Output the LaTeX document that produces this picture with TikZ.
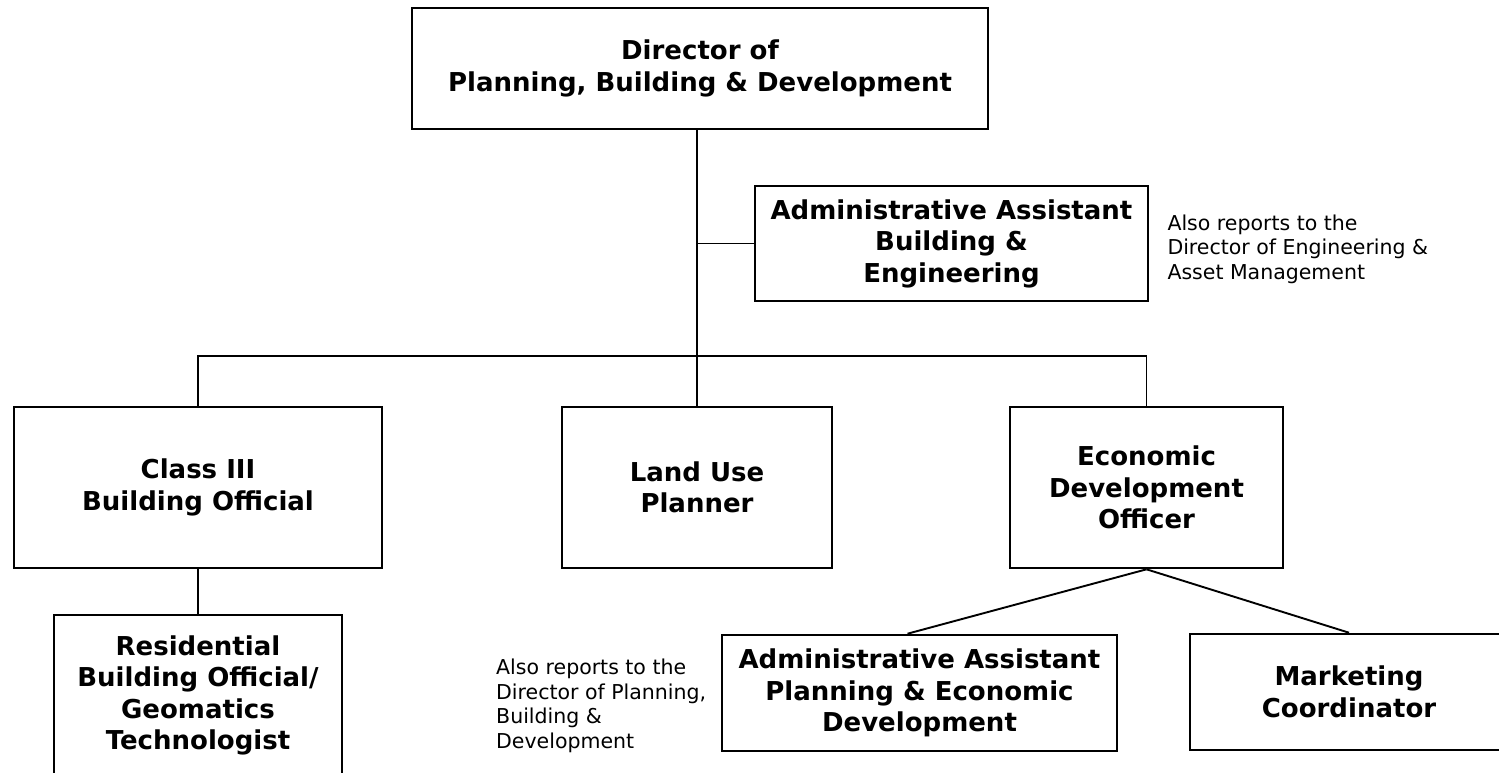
\documentclass[tikz,border=0pt]{standalone}
\usepackage{fontspec}
\setmainfont{DejaVu Sans}
\usetikzlibrary{positioning}

\begin{document}
\begin{tikzpicture}[x=1pt, y=-1pt,
  post/.style={draw, line width=2.6pt, inner sep=0pt, align=center,
    font=\bfseries\fontsize{26}{31.5}\selectfont},
  note/.style={inner sep=0pt, align=left, font=\fontsize{20.5}{24.5}\selectfont},
  link/.style={line width=1.9pt}]

\useasboundingbox (0,0) rectangle (1499,772);

% director and his assistant
\node[post, minimum width=576pt, minimum height=121pt] (dir) at (700,68.5) {Director of\\Planning, Building \& Development};
\node[post, minimum width=393pt, minimum height=115pt] (aab) at (951.5,243.5) {Administrative Assistant\\Building \&\\Engineering};
\node[note, right=18pt of aab, yshift=-5.5pt] (aabnote) {Also reports to the\\Director of Engineering \&\\Asset Management};

% second row
\coordinate (trunk) at (697,356);
\node[post, minimum width=368pt, minimum height=161pt] (cls) at (198,487.5) {Class III\\Building Official};
\node[post, minimum width=270pt, minimum height=161pt] (lup) at (697,487.5) {Land Use\\Planner};
\node[post, minimum width=273pt, minimum height=161pt] (edo) at (1146.5,487.5) {Economic\\Development\\Officer};

% third row
\node[post, minimum width=288pt, minimum height=161pt] (rbo) at (198,695.5) {Residential\\Building Official/\\Geomatics\\Technologist};
\node[post, minimum width=395pt, minimum height=116pt] (aap) at (919.5,693) {Administrative Assistant\\Planning \& Economic\\Development};
\node[post, minimum width=318pt, minimum height=116pt] (mkc) at (1349,692) {Marketing\\Coordinator};
\node[note, anchor=west] (aapnote) at (496,706) {Also reports to the\\Director of Planning,\\Building \&\\Development};

% lines
\draw[link] (dir.south -| trunk) -- (trunk);
\draw[link] (trunk |- aab.west) -- (aab.west);
\draw[link] (cls.north) -- (cls.north |- trunk) -- (edo.north |- trunk) -- (edo.north);
\draw[link] (trunk) -- (lup.north);
\draw[link] (cls.south) -- (rbo.north);
\draw[link] (edo.south) -- ([xshift=-12pt]aap.north);
\draw[link] (edo.south) -- (mkc.north);
\end{tikzpicture}
\end{document}
